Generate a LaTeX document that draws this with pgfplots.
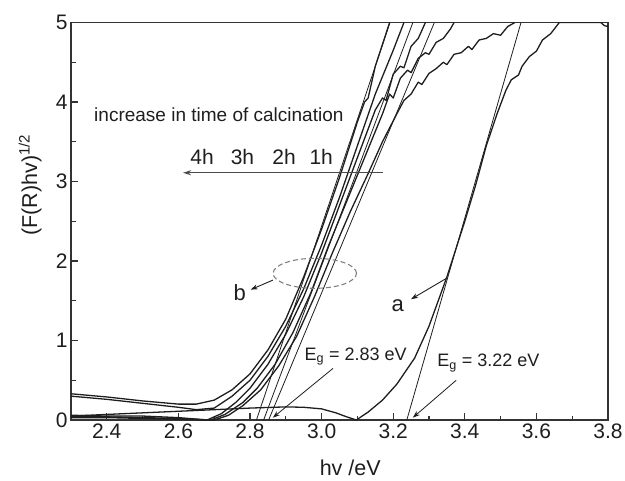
\documentclass[border=0pt]{standalone}
\usepackage{fontspec}
\setmainfont{Liberation Sans}
\usepackage{pgfplots}
\pgfplotsset{compat=1.18}
\usetikzlibrary{arrows.meta,calc}
\definecolor{ink}{HTML}{1E1E1E}
\definecolor{axisgray}{HTML}{333333}
\definecolor{arrowgray}{HTML}{4A4A4A}
\begin{document}
\begin{tikzpicture}
\begin{axis}[
  scale only axis, width=537pt, height=397.5pt,
  xmin=2.3, xmax=3.8, ymin=0, ymax=5,
  xtick={2.4,2.6,2.8,3.0,3.2,3.4,3.6,3.8},
  ytick={0,1,2,3,4,5},
  minor x tick num=1, minor y tick num=1,
  xtick pos=left, ytick pos=left,
  tick align=inside,
  major tick length=7pt, minor tick length=4.5pt,
  every tick/.style={axisgray, line width=1.1pt},
  axis line style={axisgray, line width=1.3pt},
  /pgf/number format/assume math mode=true,
  x tick label style={/pgf/number format/.cd, fixed, fixed zerofill, precision=1},
  tick label style={font=\fontsize{21}{21}\selectfont, text=ink},
  xlabel={hv /eV},
  ylabel={(F(R)hv)\textsuperscript{1/2}},
  every axis x label/.style={at={(axis description cs:0.52,-0.121)}, anchor=center, font=\fontsize{21.5}{21.5}\selectfont, text=ink},
  every axis y label/.style={at={(axis description cs:-0.076,0.591)}, rotate=90, anchor=center, font=\fontsize{21.5}{21.5}\selectfont, text=ink},
  crv/.style={ink, line width=1.3pt, line join=round, no markers},
  tan/.style={ink, line width=0.8pt, no markers},
]
% curve a
\addplot[crv] coordinates {(2.3,0.05)(2.4,0.07)(2.5,0.09)(2.6,0.11)(2.7,0.13)(2.8,0.15)(2.9,0.165)(2.95,0.16)(3.0,0.14)(3.04,0.09)(3.07,0.04)(3.097,0.0)(3.13,0.1)(3.17,0.25)(3.21,0.45)(3.26,0.78)(3.3,1.18)(3.35,1.8)(3.4,2.5)(3.43,2.95)(3.46,3.45)(3.49,3.85)(3.515,4.15)(3.53,4.28)(3.55,4.34)(3.56,4.45)(3.58,4.57)(3.6,4.64)(3.617,4.78)(3.64,4.86)(3.664,5.0)(3.78,5.0)(3.79,4.96)(3.8,4.95)};
% curves b
\addplot[crv] coordinates {(2.3,0.33)(2.4,0.29)(2.5,0.24)(2.6,0.2)(2.65,0.2)(2.7,0.25)(2.75,0.38)(2.8,0.58)(2.85,0.88)(2.9,1.27)(2.95,1.8)(3.0,2.4)(3.05,3.05)(3.1,3.75)(3.12,4.0)(3.13,4.05)(3.15,4.45)(3.19,5.0)};
\addplot[crv] coordinates {(2.3,0.3)(2.4,0.26)(2.5,0.21)(2.6,0.16)(2.65,0.13)(2.7,0.15)(2.75,0.3)(2.8,0.5)(2.85,0.8)(2.9,1.18)(2.95,1.65)(3.0,2.2)(3.05,2.8)(3.1,3.45)(3.15,4.1)(3.2,4.65)(3.23,5.0)};
\addplot[crv] coordinates {(2.3,0.06)(2.4,0.05)(2.5,0.05)(2.6,0.03)(2.68,0.0)(2.72,0.08)(2.76,0.22)(2.8,0.4)(2.85,0.7)(2.9,1.08)(2.95,1.55)(3.0,2.1)(3.05,2.7)(3.1,3.3)(3.15,3.9)(3.17,4.05)(3.18,4.02)(3.2,4.35)(3.22,4.45)(3.23,4.43)(3.25,4.7)(3.27,4.8)(3.29,5.0)};
\addplot[crv] coordinates {(2.3,0.04)(2.4,0.04)(2.5,0.03)(2.6,0.02)(2.69,0.0)(2.73,0.07)(2.78,0.22)(2.82,0.4)(2.87,0.7)(2.92,1.1)(2.97,1.6)(3.02,2.2)(3.07,2.75)(3.12,3.3)(3.17,3.85)(3.19,4.1)(3.2,4.05)(3.22,4.3)(3.24,4.4)(3.25,4.37)(3.27,4.55)(3.29,4.62)(3.3,4.6)(3.32,4.75)(3.34,4.8)(3.36,4.92)(3.37,5.0)};
\addplot[crv] coordinates {(2.3,0.03)(2.4,0.03)(2.5,0.02)(2.6,0.01)(2.7,0.0)(2.74,0.06)(2.78,0.18)(2.83,0.38)(2.88,0.68)(2.93,1.05)(2.98,1.55)(3.03,2.1)(3.08,2.62)(3.13,3.1)(3.17,3.5)(3.21,3.85)(3.23,4.02)(3.25,4.1)(3.27,4.25)(3.28,4.22)(3.3,4.36)(3.32,4.42)(3.34,4.5)(3.35,4.47)(3.37,4.6)(3.39,4.62)(3.41,4.7)(3.42,4.66)(3.44,4.78)(3.46,4.8)(3.48,4.86)(3.5,4.84)(3.52,4.95)(3.54,5.0)};
% tangent lines
\addplot[tan] coordinates {(2.818,0)(3.191,5)};
\addplot[tan] coordinates {(2.838,0)(3.255,5)};
\addplot[tan] coordinates {(2.852,0)(3.315,5)};
\addplot[tan] coordinates {(3.238,0)(3.557,5)};
% annotations
\node[font=\fontsize{19}{19}\selectfont, text=ink] at (axis cs:2.713,3.84) {increase in time of calcination};
\node[font=\fontsize{21}{21}\selectfont, text=ink] at (axis cs:2.666,3.31) {4h};
\node[font=\fontsize{21}{21}\selectfont, text=ink] at (axis cs:2.779,3.31) {3h};
\node[font=\fontsize{21}{21}\selectfont, text=ink] at (axis cs:2.895,3.31) {2h};
\node[font=\fontsize{21}{21}\selectfont, text=ink] at (axis cs:2.999,3.31) {1h};
\draw[arrowgray, line width=1.3pt, -{Stealth[length=8pt,width=5pt]}] (axis cs:3.171,3.11) -- (axis cs:2.613,3.11);
\draw[gray, line width=1.1pt, dash pattern=on 5pt off 3pt] (axis cs:2.981,1.845) ellipse [x radius=41.7pt, y radius=15pt];
\node[font=\fontsize{22}{22}\selectfont, text=ink] at (axis cs:2.771,1.6) {b};
\draw[ink, line width=0.9pt, -{Stealth[length=7pt,width=5pt]}] (axis cs:2.864,1.76) -- (axis cs:2.802,1.64);
\node[font=\fontsize{22}{22}\selectfont, text=ink] at (axis cs:3.213,1.44) {a};
\draw[ink, line width=0.9pt, -{Stealth[length=7pt,width=5pt]}] (axis cs:3.348,1.78) -- (axis cs:3.25,1.52);
\node[font=\fontsize{18}{18}\selectfont, text=ink] at (axis cs:3.095,0.8) {E\textsubscript{g} = 2.83 eV};
\draw[ink, line width=0.8pt, -{Stealth[length=7pt,width=5pt]}] (axis cs:3.032,0.65) -- (axis cs:2.864,0.03);
\node[font=\fontsize{18}{18}\selectfont, text=ink] at (axis cs:3.466,0.72) {E\textsubscript{g} = 3.22 eV};
\draw[ink, line width=0.8pt, -{Stealth[length=7pt,width=5pt]}] (axis cs:3.376,0.5) -- (axis cs:3.255,0.03);
\end{axis}
\pgfresetboundingbox
\path[use as bounding box] ($(current axis.south west)+(-71pt,-60pt)$) rectangle ($(current axis.north east)+(17pt,22.5pt)$);
\end{tikzpicture}
\end{document}
